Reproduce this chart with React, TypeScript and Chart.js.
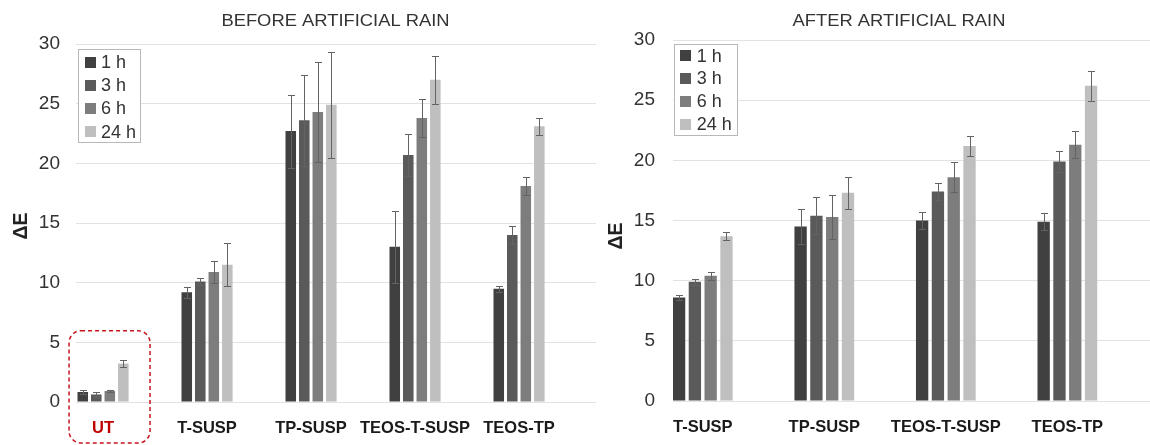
import React, { useEffect, useRef } from 'react';
import { Chart, registerables } from 'chart.js';

Chart.register(...registerables);

// ---------- data ----------
const seriesLabels = ['1 h', '3 h', '6 h', '24 h'];
const seriesColors = ['#404040', '#5a5a5a', '#7d7d7d', '#bfbfbf'];

const beforeCategories = ['UT', 'T-SUSP', 'TP-SUSP', 'TEOS-T-SUSP', 'TEOS-TP'];
const before1h = [0.84, 9.2, 22.7, 13.0, 9.5];
const before3h = [0.63, 10.1, 23.6, 20.7, 14.0];
const before6h = [0.92, 10.9, 24.3, 23.8, 18.1];
const before24h = [3.22, 11.5, 24.9, 27.0, 23.1];
const before1hErr = [0.2, 0.45, 3.05, 3.0, 0.25];
const before3hErr = [0.21, 0.3, 3.8, 1.75, 0.78];
const before6hErr = [0.06, 0.95, 4.2, 1.57, 0.75];
const before24hErr = [0.27, 1.8, 4.47, 2.0, 0.73];

const afterCategories = ['T-SUSP', 'TP-SUSP', 'TEOS-T-SUSP', 'TEOS-TP'];
const after1h = [8.6, 14.5, 15.0, 14.9];
const after3h = [9.9, 15.4, 17.4, 19.9];
const after6h = [10.4, 15.3, 18.6, 21.3];
const after24h = [13.7, 17.3, 21.2, 26.2];
const after1hErr = [0.17, 1.46, 0.72, 0.69];
const after3hErr = [0.28, 1.52, 0.69, 0.88];
const after6hErr = [0.36, 1.8, 1.27, 1.1];
const after24hErr = [0.36, 1.33, 0.8, 1.26];

const yTickValues = [0, 5, 10, 15, 20, 25, 30];

const FONT = '"Liberation Sans", Arial, Helvetica, sans-serif';

// ---------- plugins ----------
const errorBarPlugin = {
  id: 'errorBars',
  afterDatasetsDraw(chart: any, _args: any, o: any) {
    const { ctx } = chart;
    const y = chart.scales.y;
    ctx.save();
    ctx.strokeStyle = o.color;
    ctx.lineWidth = 1;
    chart.data.datasets.forEach((ds: any, di: number) => {
      const meta = chart.getDatasetMeta(di);
      meta.data.forEach((el: any, i: number) => {
        const v = ds.data[i].y;
        const e = ds.errors[i];
        const x = Math.round(el.x) + 0.5;
        const yt = Math.round(y.getPixelForValue(v + e)) + 0.5;
        const yb = Math.round(y.getPixelForValue(v - e)) + 0.5;
        ctx.beginPath();
        ctx.moveTo(x, yt);
        ctx.lineTo(x, yb);
        ctx.moveTo(x - o.cap, yt);
        ctx.lineTo(x + o.cap, yt);
        ctx.moveTo(x - o.cap, yb);
        ctx.lineTo(x + o.cap, yb);
        ctx.stroke();
      });
    });
    ctx.restore();
  },
};

const boxLegendPlugin = {
  id: 'boxLegend',
  afterDraw(chart: any, _args: any, o: any) {
    const ctx = chart.ctx;
    ctx.save();
    ctx.fillStyle = '#ffffff';
    ctx.fillRect(o.x, o.y, o.w, o.h);
    ctx.strokeStyle = o.borderColor;
    ctx.lineWidth = 1;
    ctx.strokeRect(o.x + 0.5, o.y + 0.5, o.w, o.h);
    ctx.font = `${o.fontSize}px ${FONT}`;
    ctx.textBaseline = 'middle';
    ctx.textAlign = 'left';
    chart.data.datasets.forEach((ds: any, i: number) => {
      const cy = o.y + o.firstRow + i * o.rowStep;
      ctx.fillStyle = ds.backgroundColor;
      ctx.fillRect(o.x + o.boxOffset, Math.round(cy - o.box / 2), o.box, o.box);
      ctx.fillStyle = o.textColor;
      ctx.fillText(ds.label, o.x + o.textOffset, cy + 1);
    });
    ctx.restore();
  },
};

const textPlugin = {
  id: 'extraText',
  afterDraw(chart: any, _args: any, o: any) {
    const ctx = chart.ctx;
    ctx.save();
    ctx.font = `${o.titleSize}px ${FONT}`;
    ctx.fillStyle = o.titleColor;
    ctx.textAlign = 'center';
    ctx.textBaseline = 'middle';
    ctx.translate(o.titleX, o.titleY);
    ctx.scale(o.titleStretch, 1);
    ctx.fillText(o.title, 0, 0);
    ctx.restore();

    ctx.save();
    ctx.font = `bold ${o.axisSize}px ${FONT}`;
    ctx.fillStyle = o.axisColor;
    ctx.textAlign = 'center';
    ctx.textBaseline = 'middle';
    ctx.translate(o.axisX, o.axisY);
    ctx.rotate(-Math.PI / 2);
    ctx.fillText(o.axisTitle, 0, 0);
    ctx.restore();
  },
};

const dashedBoxPlugin = {
  id: 'dashedBox',
  afterDraw(chart: any, _args: any, o: any) {
    if (!o || !o.enabled) return;
    const ctx = chart.ctx;
    const xs = chart.scales.x;
    const ys = chart.scales.y;
    const cx = xs.getPixelForValue(o.index);
    const x0 = cx + o.leftOff;
    const x1 = cx + o.rightOff;
    const y0 = ys.getPixelForValue(o.topValue);
    const y1 = o.bottom;
    const r = o.radius;
    ctx.save();
    ctx.strokeStyle = o.color;
    ctx.lineWidth = 1.5;
    ctx.setLineDash(o.dash);
    ctx.beginPath();
    ctx.moveTo(x0 + r, y0);
    ctx.lineTo(x1 - r, y0);
    ctx.arcTo(x1, y0, x1, y0 + r, r);
    ctx.lineTo(x1, y1 - r);
    ctx.arcTo(x1, y1, x1 - r, y1, r);
    ctx.lineTo(x0 + r, y1);
    ctx.arcTo(x0, y1, x0, y1 - r, r);
    ctx.lineTo(x0, y0 + r);
    ctx.arcTo(x0, y0, x0 + r, y0, r);
    ctx.closePath();
    ctx.stroke();
    ctx.restore();
  },
};

// ---------- config builder ----------
function buildConfig(p: any) {
  const datasets = p.series.map((vals: number[], si: number) => ({
    label: seriesLabels[si],
    backgroundColor: seriesColors[si],
    borderWidth: 0,
    data: vals.map((v, i) => ({ x: i, y: v })),
    errors: p.errors[si],
    categoryPercentage: p.catPct,
    barPercentage: p.barPct,
  }));
  return {
    type: 'bar',
    data: { datasets },
    plugins: [errorBarPlugin, boxLegendPlugin, textPlugin, dashedBoxPlugin],
    options: {
      animation: false,
      responsive: false,
      devicePixelRatio: 1,
      layout: { padding: { top: p.top, right: p.right, left: 0, bottom: 0 } },
      scales: {
        x: {
          type: 'linear',
          offset: false,
          min: p.xMin,
          max: p.xMax,
          afterBuildTicks: (axis: any) => {
            axis.ticks = p.categories.map((_: string, i: number) => ({ value: i }));
          },
          afterFit: (axis: any) => {
            axis.height = p.xAxisHeight;
          },
          grid: { display: false, drawTicks: false, offset: false },
          border: { display: false },
          ticks: {
            autoSkip: false,
            maxRotation: 0,
            padding: p.xPad,
            font: { family: FONT, size: 16.5, weight: 'bold' },
            color: (c: any) => (p.highlightFirst && c.index === 0 ? '#c00000' : '#1a1a1a'),
            callback: (value: number) => p.categories[Math.round(value)] ?? '',
          },
        },
        y: {
          min: 0,
          max: 30,
          afterBuildTicks: (axis: any) => {
            axis.ticks = yTickValues.map((v) => ({ value: v }));
          },
          afterFit: (axis: any) => {
            axis.width = p.yAxisWidth;
          },
          grid: { color: '#e2e2e2', lineWidth: 1, drawTicks: false },
          border: { display: false },
          ticks: {
            padding: p.yPad,
            font: { family: FONT, size: 19 },
            color: '#333333',
          },
        },
      },
      plugins: {
        legend: { display: false },
        tooltip: { enabled: false },
        errorBars: { color: '#636363', cap: 3.5 },
        boxLegend: p.legend,
        extraText: p.text,
        dashedBox: p.dashed,
      },
    },
  };
}

const leftParams = {
  categories: beforeCategories,
  series: [before1h, before3h, before6h, before24h],
  errors: [before1hErr, before3hErr, before6hErr, before24hErr],
  xMin: -0.26,
  xMax: 4.74,
  catPct: 0.52,
  barPct: 0.78,
  top: 44,
  right: 2,
  xAxisHeight: 43,
  yAxisWidth: 76,
  xPad: 17,
  yPad: 16,
  highlightFirst: true,
  legend: {
    x: 78, y: 49, w: 62, h: 93, firstRow: 13.3, rowStep: 23.1,
    box: 11, boxOffset: 7, textOffset: 23, fontSize: 18,
    borderColor: '#b8b8b8', textColor: '#333333',
  },
  text: {
    title: 'BEFORE ARTIFICIAL RAIN', titleSize: 17, titleStretch: 1.08,
    titleX: 335.5, titleY: 21, titleColor: '#333333',
    axisTitle: 'ΔE', axisSize: 19.5, axisX: 22, axisY: 226, axisColor: '#222222',
  },
  dashed: {
    enabled: true, index: 0, leftOff: -34, rightOff: 47, topValue: 5.97,
    bottom: 443, radius: 12, color: '#c8141e', dash: [4, 3],
  },
};

const rightParams = {
  categories: afterCategories,
  series: [after1h, after3h, after6h, after24h],
  errors: [after1hErr, after3hErr, after6hErr, after24hErr],
  xMin: -0.245,
  xMax: 3.68,
  catPct: 0.52,
  barPct: 0.78,
  top: 40,
  right: 0,
  xAxisHeight: 44,
  yAxisWidth: 75,
  xPad: 17,
  yPad: 18,
  highlightFirst: false,
  legend: {
    x: 76, y: 44, w: 63, h: 91, firstRow: 11.7, rowStep: 22.8,
    box: 11, boxOffset: 6, textOffset: 22.7, fontSize: 18,
    borderColor: '#b8b8b8', textColor: '#333333',
  },
  text: {
    title: 'AFTER ARTIFICIAL RAIN', titleSize: 17, titleStretch: 1.08,
    titleX: 301, titleY: 21, titleColor: '#333333',
    axisTitle: 'ΔE', axisSize: 19.5, axisX: 19, axisY: 236, axisColor: '#222222',
  },
  dashed: { enabled: false },
};

function ChartCanvas({ params, left, width }: { params: any; left: number; width: number }) {
  const ref = useRef<HTMLCanvasElement | null>(null);
  useEffect(() => {
    if (!ref.current) return;
    const chart = new Chart(ref.current, buildConfig(params) as any);
    return () => chart.destroy();
  }, [params]);
  return (
    <canvas
      ref={ref}
      width={width}
      height={445}
      style={{ position: 'absolute', left, top: 0, width, height: 445 }}
    />
  );
}

export default function App() {
  return (
    <div
      style={{
        position: 'absolute',
        left: 0,
        top: 0,
        width: 1150,
        height: 445,
        background: '#ffffff',
        overflow: 'hidden',
      }}
    >
      <ChartCanvas params={leftParams} left={0} width={598} />
      <ChartCanvas params={rightParams} left={598} width={552} />
    </div>
  );
}
